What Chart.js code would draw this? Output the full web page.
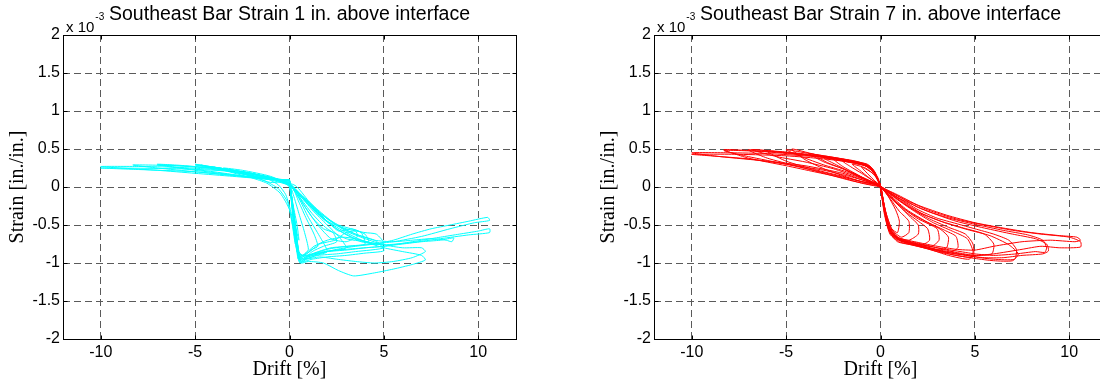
<!DOCTYPE html>
<html>
<head>
<meta charset="utf-8">
<script src="https://cdn.jsdelivr.net/npm/chart.js@4.4.1/dist/chart.umd.min.js"></script>
<style>
  html, body { margin: 0; padding: 0; background: #fff; overflow: hidden; width: 1100px; height: 385px; }
  canvas { position: absolute; top: 0; }
  #se1 { left: 0; }
  #se7 { left: 591px; }
</style>
</head>
<body>
<canvas id="se1" width="550" height="385"></canvas>
<canvas id="se7" width="550" height="385"></canvas>
<script>
// axis ticks
const driftTicks = [-10, -5, 0, 5, 10];
const strainTicks = [-2, -1.5, -1, -0.5, 0, 0.5, 1, 1.5, 2];

// Southeast bar, 1 in. above interface: [drift %, strain x10^-3]
const se1Cycle1 = [[0,0.05],[0.15,-0.3],[0.35,-0.7],[0.55,-0.92],[0.8,-0.88],[1.0,-0.82],[0.8,-0.6],[0.5,-0.35],[0.2,-0.1],[0,0.03],[-0.5,0.08],[-1.0,0.12],[-0.6,0.1],[-0.2,0.08],[0,0.07]];
const se1Cycle2 = [[0,0.07],[0.2,-0.4],[0.4,-0.8],[0.55,-1.0],[0.9,-0.95],[1.4,-0.9],[2.0,-0.85],[1.6,-0.65],[1.0,-0.4],[0.5,-0.15],[0.1,0.0],[-0.5,0.08],[-1.2,0.13],[-2.0,0.18],[-1.5,0.14],[-0.8,0.1],[-0.2,0.09],[0,0.08]];
const se1Cycle3 = [[0,0.08],[0.2,-0.35],[0.45,-0.85],[0.6,-0.98],[1.0,-0.92],[2.0,-0.85],[3.0,-0.8],[2.6,-0.65],[2.0,-0.5],[1.2,-0.3],[0.5,-0.1],[0,0.02],[-0.8,0.1],[-2,0.17],[-3,0.21],[-2.4,0.17],[-1.5,0.12],[-0.6,0.1],[0,0.09]];
const se1Cycle4 = [[0,0.09],[0.25,-0.4],[0.45,-0.8],[0.6,-0.97],[1.2,-0.88],[2.2,-0.8],[3.2,-0.78],[4.0,-0.75],[3.8,-0.6],[3.3,-0.55],[2.6,-0.58],[2.0,-0.45],[1.2,-0.25],[0.5,-0.08],[0,0.03],[-1,0.12],[-2.5,0.2],[-4,0.26],[-3.2,0.21],[-2,0.15],[-1,0.1],[0,0.09]];
const se1Cycle5 = [[0,0.09],[0.2,-0.3],[0.4,-0.75],[0.55,-0.95],[1.0,-0.9],[2.0,-0.82],[3.0,-0.78],[4.0,-0.76],[5.0,-0.74],[4.6,-0.62],[4.0,-0.6],[3.0,-0.55],[2.0,-0.45],[1.0,-0.22],[0.4,-0.05],[0,0.04],[-1,0.13],[-2.5,0.2],[-4,0.26],[-4.7,0.29],[-4,0.25],[-2.5,0.18],[-1.2,0.12],[0,0.09]];
const se1Cycle6 = [[0,0.09],[0.3,-0.5],[0.5,-0.88],[0.7,-0.95],[1.5,-0.9],[2.5,-0.88],[3.5,-0.85],[5.0,-0.8],[4.5,-0.7],[3.5,-0.62],[2.5,-0.5],[1.5,-0.3],[0.6,-0.1],[0,0.02],[-1,0.12],[-3,0.22],[-5,0.3],[-4,0.25],[-2.5,0.17],[-1,0.1],[0,0.09]];
const se1Cycle7 = [[0,0.09],[0.2,-0.35],[0.45,-0.85],[0.6,-1.0],[1.0,-0.98],[1.8,-1.0],[2.6,-1.1],[3.4,-1.17],[4.5,-1.13],[5.5,-1.08],[6.5,-1.02],[7.2,-0.96],[7.0,-0.9],[6.0,-0.85],[5.0,-0.8],[4.0,-0.72],[3.0,-0.6],[2.0,-0.45],[1.0,-0.22],[0.3,-0.05],[0,0.05],[-1.5,0.15],[-3.5,0.23],[-5.5,0.28],[-7,0.3],[-6,0.26],[-4,0.2],[-2,0.13],[-0.8,0.1],[0,0.09]];
const se1Cycle8 = [[0,0.09],[0.3,-0.5],[0.5,-0.9],[0.8,-0.95],[1.6,-0.92],[2.5,-0.95],[3.5,-0.98],[4.5,-1.0],[5.5,-0.98],[6.5,-0.93],[7.2,-0.85],[7.0,-0.8],[6.0,-0.8],[5.0,-0.76],[4.0,-0.68],[3.0,-0.58],[2.0,-0.42],[1.0,-0.2],[0.2,0.0],[0,0.05],[-2,0.17],[-4,0.24],[-6.5,0.29],[-7,0.29],[-5,0.22],[-3,0.16],[-1,0.1],[0,0.09]];
const se1Cycle9 = [[0,0.09],[0.3,-0.45],[0.55,-0.92],[0.9,-0.9],[1.8,-0.85],[3,-0.82],[4,-0.8],[5,-0.78],[6,-0.75],[7,-0.72],[8,-0.7],[8.7,-0.67],[8.6,-0.72],[8.3,-0.7],[7.5,-0.68],[6.5,-0.7],[5.5,-0.72],[4.5,-0.7],[3.5,-0.62],[2.5,-0.5],[1.5,-0.32],[0.6,-0.1],[0,0.04],[-2,0.18],[-4,0.25],[-6,0.28],[-8.3,0.29],[-7,0.25],[-5,0.2],[-3,0.15],[-1,0.1],[0,0.09]];
const se1Cycle10 = [[0,0.09],[0.25,-0.4],[0.5,-0.85],[0.8,-0.92],[1.5,-0.88],[2.5,-0.82],[3.5,-0.78],[4.5,-0.75],[5.5,-0.7],[6.5,-0.62],[7.5,-0.55],[8.5,-0.5],[9.5,-0.45],[10.5,-0.4],[10.6,-0.44],[9.8,-0.47],[8.5,-0.55],[7,-0.65],[5.5,-0.72],[4.5,-0.74],[3.5,-0.68],[2.5,-0.55],[1.5,-0.36],[0.6,-0.12],[0,0.03],[-2,0.17],[-4,0.23],[-6,0.26],[-8,0.27],[-10,0.27],[-9,0.25],[-7,0.22],[-5,0.18],[-3,0.14],[-1,0.1],[0,0.09]];
const se1Cycle11 = [[0,0.09],[0.3,-0.5],[0.5,-0.88],[0.9,-0.9],[2,-0.85],[3,-0.83],[4,-0.8],[5,-0.78],[6,-0.74],[7,-0.7],[8,-0.66],[9,-0.62],[10,-0.58],[10.6,-0.55],[10.6,-0.6],[9.5,-0.63],[8,-0.68],[6.5,-0.73],[5,-0.76],[3.8,-0.72],[2.8,-0.6],[1.8,-0.42],[0.8,-0.18],[0,0.02],[-3,0.2],[-6,0.24],[-10,0.25],[-8,0.23],[-5,0.2],[-2,0.13],[0,0.09]];
const se1Cycle12 = [[0,0.06],[0.1,-0.15],[0.3,-0.5],[0.5,-0.7],[0.4,-0.5],[0.2,-0.25],[0,0.0],[-0.3,0.06],[-0.5,0.09],[-0.3,0.08],[0,0.06]];
const se1Cycle13 = [[0,0.06],[0.15,-0.25],[0.35,-0.72],[0.5,-0.95],[0.8,-0.9],[1.2,-0.82],[1.5,-0.78],[1.3,-0.62],[0.9,-0.42],[0.5,-0.2],[0.1,0.02],[-0.6,0.1],[-1.5,0.15],[-1.1,0.1],[-0.6,0.03],[-0.2,-0.1],[0.1,-0.35],[0.3,-0.7],[0.5,-0.98]];
const se1Cycle14 = [[0,0.08],[0.25,-0.45],[0.5,-0.92],[0.7,-0.96],[1.2,-0.85],[1.8,-0.78],[2.5,-0.72],[2.3,-0.6],[1.8,-0.55],[1.2,-0.4],[0.6,-0.18],[0,0.03],[-1,0.12],[-2.5,0.2],[-2,0.15],[-1.3,0.08],[-0.6,-0.02],[-0.1,-0.2],[0.2,-0.55],[0.45,-0.95]];
const se1Cycle15 = [[0,0.08],[0.3,-0.55],[0.5,-0.9],[0.9,-0.88],[1.6,-0.75],[2.4,-0.7],[3.0,-0.6],[3.5,-0.58],[3.6,-0.65],[3.0,-0.72],[2.2,-0.68],[1.5,-0.5],[0.8,-0.25],[0.2,0.0],[-1,0.14],[-2.5,0.22],[-3.5,0.25],[-2.8,0.2],[-1.8,0.12],[-1,0.06],[0,0.08]];
const se1Cycle16 = [[0,0.09],[0.2,-0.45],[0.4,-0.85],[0.7,-0.9],[1.3,-0.78],[2,-0.7],[2.8,-0.66],[3.5,-0.68],[4.2,-0.72],[4.0,-0.62],[3.4,-0.56],[2.6,-0.5],[1.8,-0.38],[1,-0.18],[0.3,0.02],[-1.2,0.13],[-3,0.22],[-4.2,0.27],[-3.5,0.22],[-2,0.12],[-1.2,0.05],[-0.5,-0.08],[0,-0.3],[0.3,-0.75]];
const se1Cycle17 = [[0,0.09],[0.3,-0.6],[0.6,-0.98],[1.2,-0.95],[2,-0.92],[3,-0.9],[4,-0.87],[5,-0.84],[4.8,-0.76],[4,-0.72],[3,-0.68],[2,-0.55],[1.2,-0.35],[0.5,-0.12],[0,0.04],[-2,0.18],[-4,0.26],[-5,0.29],[-3,0.2],[-1.5,0.12],[0,0.09]];

// Southeast bar, 7 in. above interface
const se7Cycle1 = [[0,0.02],[0.4,-0.12],[0.8,-0.3],[1.0,-0.45],[0.9,-0.6],[0.6,-0.55],[0.3,-0.35],[0.1,-0.12],[-0.1,0.08],[-0.4,0.18],[-0.8,0.24],[-1.0,0.26],[-0.7,0.18],[-0.3,0.08],[0,0.02]];
const se7Cycle2 = [[0,0.01],[0.5,-0.12],[1.0,-0.25],[1.6,-0.4],[2.0,-0.5],[2.0,-0.62],[1.5,-0.7],[0.9,-0.66],[0.4,-0.48],[0.15,-0.2],[-0.05,0.05],[-0.3,0.18],[-0.7,0.27],[-1.2,0.3],[-2.0,0.34],[-1.6,0.27],[-1.0,0.18],[-0.5,0.1],[0,0.02]];
const se7Cycle3 = [[0,0],[0.6,-0.15],[1.2,-0.28],[2.0,-0.42],[3.0,-0.55],[3.1,-0.7],[2.7,-0.78],[1.8,-0.74],[1.0,-0.68],[0.5,-0.55],[0.2,-0.25],[0,0.0],[-0.3,0.17],[-0.8,0.28],[-1.5,0.32],[-2.2,0.35],[-3,0.38],[-2.4,0.3],[-1.6,0.2],[-0.8,0.11],[0,0.02]];
const se7Cycle4 = [[0,0],[0.6,-0.13],[1.4,-0.3],[2.4,-0.45],[3.4,-0.57],[4.0,-0.65],[4.1,-0.8],[3.6,-0.86],[2.6,-0.8],[1.6,-0.74],[0.9,-0.68],[0.4,-0.5],[0.15,-0.2],[-0.1,0.08],[-0.5,0.24],[-1.0,0.3],[-2.0,0.36],[-3.0,0.4],[-3.8,0.44],[-3.0,0.33],[-2.0,0.24],[-1.0,0.13],[0,0.02]];
const se7Cycle5 = [[0,0.01],[0.7,-0.12],[1.6,-0.28],[2.6,-0.42],[3.6,-0.53],[4.5,-0.62],[4.9,-0.75],[4.9,-0.92],[4.0,-0.9],[3.0,-0.84],[2.0,-0.77],[1.0,-0.7],[0.5,-0.55],[0.2,-0.25],[0,0.02],[-0.4,0.22],[-0.9,0.3],[-2.0,0.37],[-3.5,0.43],[-4.7,0.5],[-4.0,0.36],[-3.0,0.24],[-2.0,0.15],[-1.0,0.07],[0,0.02]];
const se7Cycle6 = [[0,0.0],[0.8,-0.15],[1.8,-0.32],[2.8,-0.47],[3.8,-0.58],[4.6,-0.68],[4.9,-0.85],[4.7,-0.95],[3.6,-0.9],[2.6,-0.82],[1.6,-0.76],[0.9,-0.72],[0.5,-0.6],[0.2,-0.3],[-0.05,0.05],[-0.5,0.24],[-1.0,0.31],[-2.5,0.39],[-4.0,0.45],[-5.0,0.49],[-4.2,0.4],[-3.0,0.29],[-1.8,0.2],[-0.8,0.1],[0,0.01]];
const se7Cycle7 = [[0,0.0],[0.8,-0.12],[2.0,-0.3],[3.0,-0.41],[4.0,-0.48],[5.0,-0.55],[6.0,-0.62],[6.8,-0.7],[7.2,-0.82],[7.1,-0.95],[6.0,-0.95],[5.0,-0.92],[4.0,-0.87],[3.0,-0.82],[2.0,-0.76],[1.0,-0.7],[0.5,-0.58],[0.2,-0.3],[0,0.0],[-0.4,0.22],[-1.0,0.3],[-2.0,0.36],[-3.5,0.42],[-5.0,0.46],[-7.0,0.49],[-6.0,0.38],[-4.5,0.28],[-3.0,0.18],[-1.5,0.08],[-0.5,0.03],[0,0.01]];
const se7Cycle8 = [[0,0.01],[1.0,-0.16],[2.2,-0.35],[3.4,-0.47],[4.6,-0.56],[5.8,-0.64],[6.8,-0.76],[7.3,-0.88],[7.0,-0.97],[6.0,-0.97],[5.0,-0.94],[4.0,-0.9],[3.0,-0.85],[2.0,-0.78],[1.0,-0.72],[0.5,-0.62],[0.2,-0.35],[-0.05,0.05],[-0.5,0.25],[-1.2,0.32],[-2.5,0.38],[-4.5,0.44],[-6.8,0.49],[-5.5,0.4],[-4.0,0.33],[-2.5,0.24],[-1.2,0.13],[0,0.02]];
const se7Cycle9 = [[0,0.0],[0.8,-0.1],[2.0,-0.27],[3.5,-0.4],[5.0,-0.49],[6.5,-0.57],[7.8,-0.63],[8.6,-0.7],[8.8,-0.8],[8.7,-0.86],[8.2,-0.85],[7.2,-0.88],[6.0,-0.9],[5.0,-0.88],[4.0,-0.84],[3.0,-0.8],[2.0,-0.75],[1.0,-0.69],[0.5,-0.58],[0.2,-0.28],[0,0.02],[-0.5,0.25],[-1.2,0.33],[-2.5,0.38],[-4.5,0.43],[-6.5,0.47],[-8.3,0.48],[-7.0,0.4],[-5.0,0.3],[-3.0,0.19],[-1.5,0.1],[0,0.02]];
const se7Cycle10 = [[0,0.0],[0.8,-0.09],[2.0,-0.24],[3.5,-0.37],[5.0,-0.47],[6.5,-0.54],[8.0,-0.6],[9.5,-0.64],[10.4,-0.66],[10.6,-0.7],[10.3,-0.72],[9.0,-0.7],[7.5,-0.72],[6.0,-0.78],[5.0,-0.83],[4.0,-0.82],[3.0,-0.78],[2.0,-0.73],[1.0,-0.67],[0.5,-0.56],[0.2,-0.26],[0,0.02],[-0.5,0.24],[-1.2,0.31],[-3,0.37],[-5,0.41],[-7.5,0.43],[-10,0.43],[-9,0.41],[-7,0.37],[-5,0.3],[-3,0.22],[-1.5,0.13],[0,0.02]];
const se7Cycle11 = [[0,0.01],[1.0,-0.13],[2.5,-0.3],[4.0,-0.42],[5.5,-0.5],[7.0,-0.57],[8.5,-0.62],[10.0,-0.66],[10.6,-0.72],[10.6,-0.79],[9.5,-0.8],[8.5,-0.78],[7.5,-0.82],[6.0,-0.88],[5.0,-0.9],[4.0,-0.88],[3.0,-0.83],[2.0,-0.77],[1.0,-0.7],[0.5,-0.6],[0.2,-0.32],[-0.05,0.05],[-0.5,0.26],[-1.5,0.34],[-3.5,0.4],[-6,0.44],[-8,0.45],[-10,0.45],[-8.5,0.4],[-6,0.34],[-4,0.28],[-2,0.18],[-0.7,0.07],[0,0.01]];
const se7Cycle12 = [[0,0.01],[0.5,-0.15],[1.0,-0.32],[1.5,-0.45],[1.5,-0.6],[1.1,-0.66],[0.6,-0.56],[0.25,-0.3],[0,0.0],[-0.3,0.15],[-0.8,0.25],[-1.5,0.3],[-1.1,0.22],[-0.6,0.12],[0,0.01]];
const se7Cycle13 = [[0,0.0],[0.6,-0.16],[1.4,-0.34],[2.0,-0.45],[2.5,-0.55],[2.6,-0.7],[2.2,-0.76],[1.4,-0.72],[0.8,-0.66],[0.4,-0.5],[0.15,-0.22],[-0.1,0.1],[-0.5,0.26],[-1.0,0.31],[-1.8,0.34],[-2.5,0.37],[-2.0,0.27],[-1.2,0.16],[-0.5,0.06],[0,0.0]];
const se7Cycle14 = [[0,0.0],[0.7,-0.17],[1.5,-0.33],[2.5,-0.47],[3.2,-0.56],[3.6,-0.66],[3.5,-0.8],[3.0,-0.83],[2.0,-0.78],[1.2,-0.72],[0.6,-0.62],[0.25,-0.35],[0,0.0],[-0.3,0.2],[-0.7,0.3],[-1.5,0.34],[-2.5,0.38],[-3.5,0.42],[-2.8,0.32],[-2.0,0.24],[-1.0,0.12],[0,0.0]];
const se7Cycle15 = [[0,0.0],[0.9,-0.16],[2.0,-0.33],[3.2,-0.45],[4.4,-0.54],[5.5,-0.62],[6.0,-0.75],[5.9,-0.88],[5.0,-0.9],[4.0,-0.86],[3.0,-0.8],[2.0,-0.74],[1.0,-0.68],[0.5,-0.57],[0.2,-0.28],[0,0.02],[-0.4,0.2],[-0.8,0.28],[-1.5,0.33],[-3.0,0.39],[-4.5,0.44],[-6,0.47],[-5,0.34],[-3.5,0.23],[-2,0.14],[-1,0.07],[0,0.02]];
const se7Cycle16 = [[0,0.0],[1.0,-0.15],[2.5,-0.32],[4.0,-0.45],[5.5,-0.54],[7.0,-0.62],[8.2,-0.68],[8.8,-0.75],[8.9,-0.84],[8.6,-0.88],[7.5,-0.9],[6.5,-0.93],[5.5,-0.93],[4.5,-0.9],[3.5,-0.86],[2.5,-0.8],[1.5,-0.74],[0.8,-0.68],[0.4,-0.54],[0.15,-0.25],[-0.1,0.08],[-0.6,0.28],[-1.5,0.35],[-3,0.4],[-5,0.45],[-7,0.48],[-8.3,0.49],[-7,0.38],[-5,0.28],[-3.5,0.2],[-2,0.12],[-1,0.05],[0,0.0]];

const se1Cycles = [se1Cycle1, se1Cycle2, se1Cycle3, se1Cycle4, se1Cycle5, se1Cycle6, se1Cycle7, se1Cycle8, se1Cycle9,
  se1Cycle10, se1Cycle11, se1Cycle12, se1Cycle13, se1Cycle14, se1Cycle15, se1Cycle16, se1Cycle17];
const se7Cycles = [se7Cycle1, se7Cycle2, se7Cycle3, se7Cycle4, se7Cycle5, se7Cycle6, se7Cycle7, se7Cycle8,
  se7Cycle9, se7Cycle10, se7Cycle11, se7Cycle12, se7Cycle13, se7Cycle14, se7Cycle15, se7Cycle16];

const sansFont = '"Liberation Sans", Arial, Helvetica, sans-serif';
const serifFont = '"Liberation Serif", "Times New Roman", serif';

// black box, inward tick marks and the "x 10^-3" multiplier, MATLAB style
const framePlugin = {
  id: 'frame',
  afterDraw(chart) {
    const { ctx, chartArea: a, scales: { x, y } } = chart;
    const l = Math.round(a.left) + 0.5, r = Math.round(a.right) + 0.5;
    const t = Math.round(a.top) + 0.5, b = Math.round(a.bottom) + 0.5;
    ctx.save();
    ctx.strokeStyle = '#000';
    ctx.lineWidth = 1;
    ctx.setLineDash([]);
    ctx.strokeRect(l, t, r - l, b - t);
    ctx.beginPath();
    driftTicks.forEach(v => {
      const px = Math.round(x.getPixelForValue(v)) + 0.5;
      ctx.moveTo(px, b); ctx.lineTo(px, b - 4);
      ctx.moveTo(px, t); ctx.lineTo(px, t + 4);
    });
    strainTicks.forEach(v => {
      const py = Math.round(y.getPixelForValue(v)) + 0.5;
      ctx.moveTo(l, py); ctx.lineTo(l + 4, py);
      ctx.moveTo(r, py); ctx.lineTo(r - 4, py);
    });
    ctx.stroke();

    ctx.fillStyle = '#000';
    ctx.textBaseline = 'alphabetic';
    ctx.textAlign = 'left';
    ctx.font = '15px ' + sansFont;
    ctx.fillText('x 10', a.left + 3, a.top - 3.5);
    const w = ctx.measureText('x 10').width;
    ctx.font = '10px ' + sansFont;
    ctx.fillText('-3', a.left + 4 + w, a.top - 15);
    ctx.restore();
  }
};

function makeChart(id, title, cycles, color) {
  const datasets = cycles.map(c => ({
    data: c.map(p => ({ x: p[0], y: p[1] })),
    showLine: true,
    borderColor: color,
    borderWidth: 1,
    pointRadius: 0,
    tension: 0.2,
    fill: false
  }));
  return new Chart(document.getElementById(id).getContext('2d'), {
    type: 'scatter',
    data: { datasets },
    options: {
      responsive: false,
      animation: false,
      events: [],
      layout: { padding: { left: 0, right: 34, top: 0, bottom: 0 } },
      plugins: {
        legend: { display: false },
        tooltip: { enabled: false },
        title: {
          display: true,
          text: title,
          fullSize: false,
          color: '#000',
          font: { family: sansFont, size: 19.5, weight: 'normal' },
          padding: { top: 3, bottom: 8.6 }
        }
      },
      scales: {
        x: {
          type: 'linear',
          min: -12,
          max: 12,
          afterBuildTicks: s => { s.ticks = driftTicks.map(v => ({ value: v })); },
          afterFit: s => { s.height = 46; },
          grid: { color: '#5a5a5a', lineWidth: 1, drawTicks: false },
          border: { display: false, dash: [7, 4] },
          ticks: {
            padding: 4,
            color: '#000',
            font: { family: sansFont, size: 16 },
            callback: v => String(v)
          },
          title: {
            display: true,
            text: 'Drift [%]',
            color: '#000',
            font: { family: serifFont, size: 20 },
            padding: { top: 0, bottom: 3 }
          }
        },
        y: {
          type: 'linear',
          min: -2,
          max: 2,
          afterBuildTicks: s => { s.ticks = strainTicks.map(v => ({ value: v })); },
          afterFit: s => { s.width = 63; },
          grid: { color: '#5a5a5a', lineWidth: 1, drawTicks: false },
          border: { display: false, dash: [7, 4] },
          ticks: {
            padding: 3,
            color: '#000',
            font: { family: sansFont, size: 16 },
            callback: v => String(v)
          },
          title: {
            display: true,
            text: 'Strain [in./in.]',
            color: '#000',
            font: { family: serifFont, size: 20 },
            padding: { top: 6, bottom: 0 }
          }
        }
      }
    },
    plugins: [framePlugin]
  });
}

makeChart('se1', 'Southeast Bar Strain 1 in. above interface', se1Cycles, '#00ffff');
makeChart('se7', 'Southeast Bar Strain 7 in. above interface', se7Cycles, '#ff0000');
</script>
</body>
</html>
